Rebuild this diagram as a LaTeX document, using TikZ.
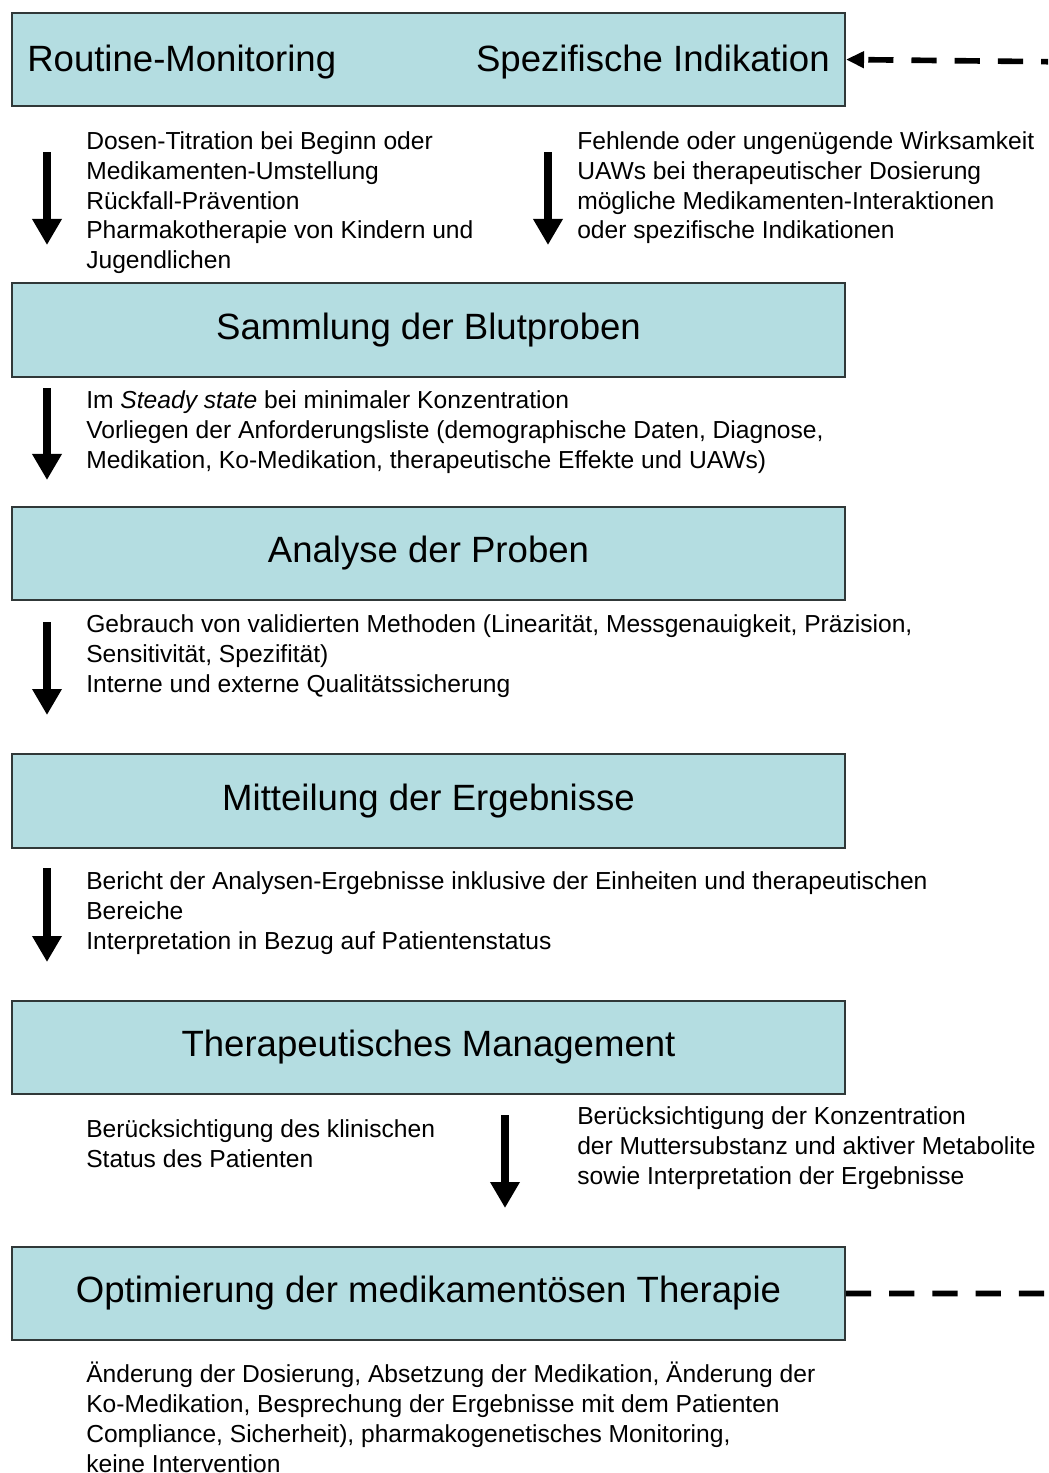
\documentclass[tikz,border=0pt]{standalone}
\usepackage{fontspec}
\setmainfont{Liberation Sans}
\usetikzlibrary{arrows.meta,calc}
\definecolor{BoxCyan}{HTML}{B4DDE1}
\definecolor{BoxRim}{HTML}{303838}
\newcommand{\stagefont}{\fontsize{26}{31}\selectfont}
\newcommand{\notefont}{\fontsize{17.5}{21.3}\selectfont}

\begin{document}
\begin{tikzpicture}[x=0.025cm, y=-0.025cm,
    stage/.style={draw=BoxRim, line width=1.3pt, fill=BoxCyan, minimum width=20.825cm, minimum height=2.33cm, inner sep=0pt, font=\stagefont},
    note/.style={anchor=north west, align=left, inner sep=0pt, font=\notefont},
    down/.style={line width=5.5pt, -{Triangle[width=0.7cm, length=0.65cm]}},
    feedback/.style={line width=4pt, dash pattern=on 0.63cm off 0.45cm}]
        \clip (0,0) rectangle (1048,1473);
        % the six stages
        \node[stage] (routine) at (428.5,59.5) {};
        \node[anchor=west, inner sep=0pt, font=\stagefont] (routinelbl) at (27,62) {Routine-Monitoring};
        \node[anchor=east, inner sep=0pt, font=\stagefont] (indiklbl) at (830,62) {Spezifische Indikation};
        \node[stage] (blut) at (428.5,330) {Sammlung der Blutproben};
        \node[stage] (analyse) at (428.5,553.5) {Analyse der Proben};
        \node[stage] (mitteil) at (428.5,801) {Mitteilung der Ergebnisse};
        \node[stage] (manage) at (428.5,1047.5) {Therapeutisches Management};
        \node[stage] (optim) at (428.5,1293.5) {Optimierung der medikamentösen Therapie};

        % notes between the stages
        \node[note] (routinenote) at (86,131) {Dosen-Titration bei Beginn oder\\Medikamenten-Umstellung\\Rückfall-Prävention\\Pharmakotherapie von Kindern und\\Jugendlichen};
        \node[note] (indiknote) at (577,131) {Fehlende oder ungenügende Wirksamkeit\\UAWs bei therapeutischer Dosierung\\mögliche Medikamenten-Interaktionen\\oder spezifische Indikationen};
        \node[note] (blutnote) at (86,390) {Im \textit{Steady state} bei minimaler Konzentration\\Vorliegen der Anforderungsliste (demographische Daten, Diagnose,\\Medikation, Ko-Medikation, therapeutische Effekte und UAWs)};
        \node[note] (analysenote) at (86,614) {Gebrauch von validierten Methoden (Linearität, Messgenauigkeit, Präzision,\\Sensitivität, Spezifität)\\Interne und externe Qualitätssicherung};
        \node[note] (mitteilnote) at (86,871) {Bericht der Analysen-Ergebnisse inklusive der Einheiten und therapeutischen\\Bereiche\\Interpretation in Bezug auf Patientenstatus};
        \node[note] (klinnote) at (86,1119) {Berücksichtigung des klinischen\\Status des Patienten};
        \node[note] (konznote) at (577,1106) {Berücksichtigung der Konzentration\\der Muttersubstanz und aktiver Metabolite\\sowie Interpretation der Ergebnisse};
        \node[note] (optimnote) at (86,1362) {Änderung der Dosierung, Absetzung der Medikation, Änderung der\\Ko-Medikation, Besprechung der Ergebnisse mit dem Patienten\\Compliance, Sicherheit), pharmakogenetisches Monitoring,\\keine Intervention};

        % downward arrows
        \foreach \name/\xa/\ya/\yb in {a/47/152/245, b/548/152/245, c/47/388/480, d/47/622/715, e/47/868/962, f/505/1115/1208}
        {
            \coordinate (top\name) at (\xa,\ya);
            \coordinate (bot\name) at (\xa,\yb);
            \draw[down] (top\name) -- (bot\name);
        }

        % feedback loop, its upright part lies beyond the right edge
        \coordinate (loopturn) at (1075,62);
        \draw[feedback, -{Triangle[width=0.4cm, length=0.45cm]}] (optim.east) -| (loopturn) -- (routine.east);
\end{tikzpicture}
\end{document}
